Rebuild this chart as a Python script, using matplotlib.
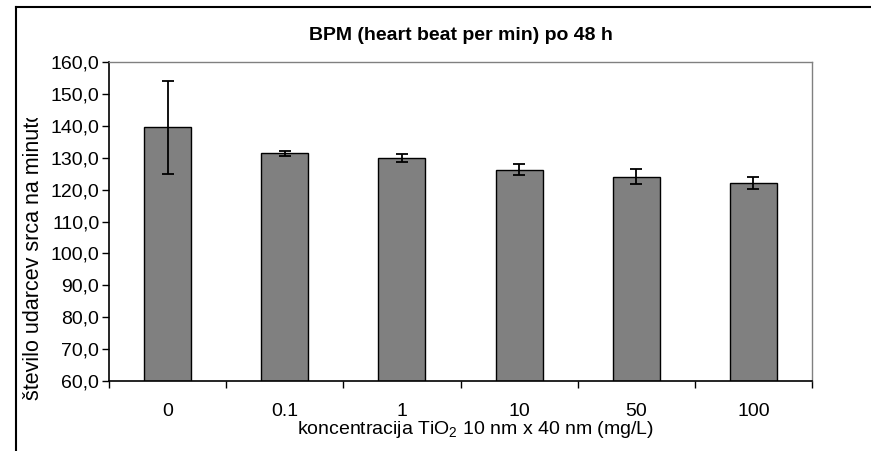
import matplotlib
matplotlib.use("Agg")
import matplotlib.pyplot as plt
from matplotlib.lines import Line2D
from matplotlib.patches import Rectangle
import numpy as np

plt.rcParams['font.family'] = ['Liberation Sans', 'DejaVu Sans']
plt.rcParams['mathtext.fontset'] = 'custom'
plt.rcParams['mathtext.rm'] = 'Liberation Sans'
plt.rcParams['mathtext.it'] = 'Liberation Sans'

categories = ["0", "0.1", "1", "10", "50", "100"]
bpm = [139.5, 131.4, 129.8, 126.3, 124.1, 122.0]
err = [14.5, 0.8, 1.3, 1.7, 2.4, 1.9]
ytick_vals = [60, 70, 80, 90, 100, 110, 120, 130, 140, 150, 160]
ytick_labels = [f"{v:.1f}".replace(".", ",") for v in ytick_vals]
title = "BPM (heart beat per min) po 48 h"
xlabel = "koncentracija TiO$_\\mathregular{2}$ 10 nm x 40 nm (mg/L)"
ylabel = "število udarcev srca na minuto"

W, H = 871, 451
fig = plt.figure(figsize=(W / 100, H / 100), dpi=100)
ax = fig.add_axes([109 / W, 1 - 381 / H, (812 - 109) / W, (381 - 62) / H])

x = np.arange(len(categories))
ax.bar(x, bpm, width=0.4, color="#808080", edgecolor="black", linewidth=1.0, zorder=2)
ax.errorbar(x, bpm, yerr=err, fmt="none", ecolor="black", elinewidth=1.3,
            capsize=4.5, capthick=1.3, zorder=3)

ax.set_xlim(-0.5, len(categories) - 0.5)
ax.set_ylim(60, 160)
ax.set_yticks(ytick_vals)
ax.set_yticklabels(ytick_labels, fontsize=14)
ax.set_xticks(np.arange(len(categories) + 1) - 0.5)
ax.set_xticklabels([])
ax.set_xticks(x, minor=True)
ax.set_xticklabels(categories, minor=True, fontsize=14)
ax.tick_params(axis="x", which="major", direction="out", length=5, width=1, color="black")
ax.tick_params(axis="x", which="minor", length=0, pad=16)
ax.tick_params(axis="y", direction="out", length=5, width=1, pad=2)

for s in ["top", "right"]:
    ax.spines[s].set_color("#808080")
    ax.spines[s].set_linewidth(1.0)
for s in ["left", "bottom"]:
    ax.spines[s].set_color("black")
    ax.spines[s].set_linewidth(1.2)

ax.set_title(title, fontsize=14, fontweight="bold", pad=16)

fig.text(475 / W, 1 - 419 / H, xlabel, fontsize=14, ha="center", va="top")

fig.text(34 / W, 1 - 255 / H, ylabel, rotation=90, fontsize=15.5,
         ha="center", va="center")
# the reference's axis title is cut off at its top end
fig.add_artist(Rectangle((20 / W, 1 - 118 / H), 22 / W, 100 / H,
                         transform=fig.transFigure, facecolor="white",
                         edgecolor="none", zorder=10))

# outer chart border (left and top edges visible)
fig.add_artist(Line2D([16 / W, 16 / W], [0, 1 - 7 / H], transform=fig.transFigure,
                      color="black", linewidth=1.5, zorder=11))
fig.add_artist(Line2D([16 / W, 1], [1 - 7 / H, 1 - 7 / H], transform=fig.transFigure,
                      color="black", linewidth=1.5, zorder=11))

fig.savefig("out.png", dpi=100)
